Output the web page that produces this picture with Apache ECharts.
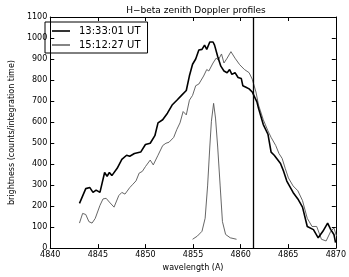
<!doctype html>
<html>
<head>
    <meta charset="utf-8">
    <title>H-beta zenith Doppler profiles</title>
    <style>
        html, body { margin: 0; padding: 0; background: #fff; }
        #chart { width: 349px; height: 277px; }
    </style>
</head>
<body>
    <div id="chart"></div>
<script type="text/javascript" src="https://cdn.jsdelivr.net/npm/echarts@6/dist/echarts.min.js"></script>
<script type="text/javascript">
    // 13:33:01 UT profile
    var wlA = [4843.07, 4843.73, 4844.16, 4844.49, 4844.82, 4845.22, 4845.71, 4845.97, 4846.21, 4846.47,
        4847.03, 4847.52, 4848.02, 4848.35, 4848.84, 4849.50, 4850.00, 4850.50, 4850.99, 4851.32,
        4851.81, 4852.31, 4852.80, 4853.30, 4853.79, 4854.29, 4854.62, 4854.95, 4855.28, 4855.61,
        4855.94, 4856.21, 4856.44, 4856.76, 4857.10, 4857.26, 4857.59, 4857.92, 4858.25, 4858.58,
        4858.84, 4859.08, 4859.41, 4859.73, 4860.07, 4860.23, 4860.56, 4860.89, 4861.22, 4861.71,
        4861.88, 4862.38, 4862.87, 4863.20, 4863.53, 4864.19, 4864.52, 4864.85, 4865.51, 4866.01,
        4866.50, 4867.00, 4867.65, 4868.15, 4868.64, 4869.14, 4869.47, 4869.80, 4869.97];
    var brA = [213, 283, 288, 265, 276, 265, 360, 342, 360, 345,
        380, 422, 442, 437, 450, 457, 493, 499, 535, 596,
        611, 642, 681, 704, 727, 750, 820, 875, 900, 943,
        946, 966, 946, 981, 981, 966, 912, 866, 843, 835,
        850, 827, 835, 812, 807, 773, 766, 758, 743, 696,
        665, 588, 542, 457, 442, 403, 365, 319, 265, 234,
        195, 103, 88, 49, 80, 119, 88, 65, 26];

    // 15:12:27 UT profile
    var wlB = [4843.07, 4843.40, 4843.73, 4844.06, 4844.39, 4844.72, 4845.22, 4845.54, 4845.87, 4846.21,
        4846.70, 4847.20, 4847.52, 4847.85, 4848.35, 4848.68, 4849.01, 4849.34, 4849.67, 4850.00,
        4850.50, 4850.82, 4851.32, 4851.81, 4852.15, 4852.48, 4852.97, 4853.30, 4853.63, 4853.96,
        4854.29, 4854.62, 4854.95, 4855.28, 4855.61, 4855.77, 4856.11, 4856.44, 4856.66, 4857.10,
        4857.43, 4857.66, 4857.99, 4858.25, 4858.58, 4858.98, 4859.41, 4859.90, 4860.40, 4860.89,
        4861.22, 4861.61, 4861.88, 4862.38, 4862.87, 4863.20, 4863.69, 4864.03, 4864.36, 4864.68,
        4865.02, 4865.51, 4866.01, 4866.50, 4867.00, 4867.50, 4867.99, 4868.49, 4868.98, 4869.47,
        4869.80, 4870.07];
    var brB = [119, 165, 160, 126, 119, 141, 203, 234, 237, 219,
        195, 250, 265, 257, 288, 304, 320, 357, 365, 388,
        419, 396, 442, 488, 499, 504, 527, 565, 596, 650,
        634, 704, 727, 773, 781, 773, 819, 850, 843, 881,
        904, 896, 924, 881, 904, 935, 904, 873, 850, 835,
        804, 743, 681, 611, 558, 527, 488, 450, 427, 380,
        334, 296, 273, 226, 142, 103, 103, 42, 34, 80,
        96, 57];

    // narrow instrument profile
    var wlC = [4854.95, 4855.45, 4855.94, 4856.27, 4856.53, 4856.76, 4856.93, 4857.16, 4857.36, 4857.59,
        4857.85, 4858.09, 4858.42, 4858.91, 4859.57];
    var brC = [42, 57, 80, 142, 296, 481, 604, 689, 619, 481,
        296, 126, 65, 49, 42];

    var restLine = 4861.3;
    var xTicks = { min: 4840, max: 4870, interval: 5 };
    var yTicks = { min: 0, max: 1100, interval: 100 };

    function pairs(xs, ys) {
        var out = [];
        for (var i = 0; i < xs.length; i++) out.push([xs[i], ys[i]]);
        return out;
    }

    var font = 'DejaVu Sans';
    var plain = function (v) { return String(v); };
    var axisCommon = {
        axisLine: { show: true, onZero: false, lineStyle: { color: '#000', width: 1 } },
        axisTick: { show: true, inside: true, length: 4, lineStyle: { color: '#000' } },
        splitLine: { show: false }
    };

    var myChart = echarts.init(document.getElementById('chart'));
    var option = {
        animation: false,
        backgroundColor: '#fff',
        textStyle: { fontFamily: font },
        title: {
            text: 'H\u2212beta zenith Doppler profiles',
            left: 191,
            textAlign: 'center',
            top: 1,
            textStyle: { fontSize: 9, fontWeight: 'normal', color: '#000', fontFamily: font }
        },
        legend: {
            data: [
                { name: '13:33:01 UT', icon: 'rect', itemStyle: { color: '#000' } },
                { name: '15:12:27 UT', icon: 'rect', itemStyle: { color: '#666' } }
            ],
            orient: 'vertical',
            left: 45,
            top: 22,
            padding: [4, 7, 3, 7],
            itemGap: 4,
            itemWidth: 18,
            itemHeight: 1.6,
            borderColor: '#000',
            borderWidth: 1,
            textStyle: { fontSize: 10, color: '#000', fontFamily: font, padding: [0, 0, 0, 4] }
        },
        grid: { left: 39, right: 6, top: 17, bottom: 23, containLabel: false },
        xAxis: [
            Object.assign({
                type: 'value', min: xTicks.min, max: xTicks.max, interval: xTicks.interval,
                name: 'wavelength (A)', nameLocation: 'middle', nameGap: 14,
                nameTextStyle: { fontSize: 8, color: '#000', fontFamily: font },
                axisLabel: { fontSize: 8, color: '#000', margin: 3, fontFamily: font, formatter: plain }
            }, axisCommon),
            Object.assign({
                type: 'value', position: 'top', min: xTicks.min, max: xTicks.max, interval: xTicks.interval,
                axisLabel: { show: false }
            }, axisCommon)
        ],
        yAxis: [
            Object.assign({
                type: 'value', min: yTicks.min, max: yTicks.max, interval: yTicks.interval,
                name: 'brightness (counts/integration time)', nameLocation: 'middle', nameGap: 25,
                nameTextStyle: { fontSize: 8, color: '#000', fontFamily: font },
                axisLabel: { fontSize: 8, color: '#000', margin: 3, fontFamily: font, formatter: plain }
            }, axisCommon),
            Object.assign({
                type: 'value', position: 'right', min: yTicks.min, max: yTicks.max, interval: yTicks.interval,
                axisLabel: { show: false }
            }, axisCommon)
        ],
        series: [{
            name: '13:33:01 UT',
            type: 'line',
            symbol: 'none',
            data: pairs(wlA, brA),
            lineStyle: { color: '#000', width: 1.6 },
            itemStyle: { color: '#000' },
            z: 3,
            markLine: {
                silent: true,
                symbol: 'none',
                label: { show: false },
                lineStyle: { color: '#000', width: 1.3, type: 'solid' },
                data: [{ xAxis: restLine }]
            }
        }, {
            name: '15:12:27 UT',
            type: 'line',
            symbol: 'none',
            data: pairs(wlB, brB),
            lineStyle: { color: '#555', width: 0.9 },
            itemStyle: { color: '#555' },
            z: 2
        }, {
            name: 'instrument',
            type: 'line',
            symbol: 'none',
            data: pairs(wlC, brC),
            lineStyle: { color: '#555', width: 0.9 },
            itemStyle: { color: '#555' },
            z: 2
        }]
    };
    myChart.setOption(option);
</script>
</body>
</html>
